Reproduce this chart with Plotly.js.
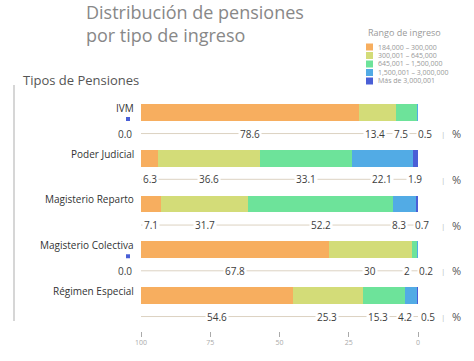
<!DOCTYPE html>
<html><head><meta charset="utf-8">
<script src="https://cdn.plot.ly/plotly-3.0.1.min.js"></script>
<style>body{margin:0;background:#fff}#c{width:474px;height:361px}</style>
</head><body><div id="c"></div>
<script>
const categories = ['IVM','Poder Judicial','Magisterio Reparto','Magisterio Colectiva','Régimen Especial'];
const rangeNames = ['184,000 – 300,000','300,001 – 645,000','645,001 – 1,500,000','1,500,001 – 3,000,000','Más de 3,000,001'];
const rangeColors = ['#F7AE5F','#D3DC78','#6DE39A','#52ABE5','#4A5FD6'];
const r184 = [78.6, 6.3, 7.1, 67.8, 54.6];
const r300 = [13.4, 36.6, 31.7, 30, 25.3];
const r645 = [7.5, 33.1, 52.2, 2, 15.3];
const r1500 = [0.5, 22.1, 8.3, 0.2, 4.2];
const r3000 = [0.0, 1.9, 0.7, 0.0, 0.5];
const tickVals = [100, 75, 50, 25, 0];

const series = [r184, r300, r645, r1500, r3000];
const rows = categories.map((c,i)=>i);

const W=474,H=361,ML=141,MR=56,MT=95,MB=30;
const PW=W-ML-MR, PH=H-MT-MB;
const yRange=[4.776,-0.383];
const pxPerUnitX = PW/100;
const toPaperX = px => (px-ML)/PW;
const toPaperY = py => (H-MB-py)/PH;
const valueOffset = 0.46;

const traces = [];
for (let k=series.length-1;k>=0;k--){
  traces.push({type:'bar',orientation:'h',y:rows,x:series[k],name:rangeNames[k],
    marker:{color:rangeColors[k],line:{width:0}},width:0.37,hoverinfo:'skip',showlegend:false});
}

const shapes=[], annotations=[];
const fmt = v => v===0 ? '0.0' : String(v);
const txtW = s => { let w=0; for(const ch of s){ w += (ch==='.')?2.8:5.8; } return w; };

rows.forEach(i=>{
  const yv = i+valueOffset;
  shapes.push({type:'line',xref:'x',yref:'y',x0:100,x1:0,y0:yv,y1:yv,line:{color:'#DCD2C2',width:1},layer:'below'});
  let cum=0; const items=[];
  series.forEach((s,k)=>{
    const v=s[i];
    const mid = cum+v/2; cum+=v;
    if (v===0) return;
    items.push({t:fmt(v),p:ML + mid*pxPerUnitX,w:txtW(fmt(v))});
  });
  for(let it=0;it<100;it++){
    for(let j=0;j<items.length-1;j++){
      const a=items[j], b=items[j+1];
      const need=(a.w+b.w)/2+9;
      const gap=b.p-a.p;
      if(gap<need){const d=(need-gap)/2; a.p-=d; b.p+=d;}
    }
    if(items[0].p-items[0].w/2<ML){items[0].p=ML+items[0].w/2;}
  }
  items.forEach(it=>{
    annotations.push({xref:'paper',yref:'y',x:toPaperX(it.p),y:yv,text:it.t,showarrow:false,
      xanchor:'center',yanchor:'middle',bgcolor:'#ffffff',borderpad:1,font:{family:'Open Sans',size:10,color:'#3d3d3d'}});
  });
  series.forEach((s,k)=>{
    if(s[i]===0){
      annotations.push({xref:'paper',yref:'y',x:toPaperX(134),y:yv,text:'0.0',showarrow:false,xanchor:'right',yanchor:'middle',
        font:{family:'Open Sans',size:10,color:'#3d3d3d'}});
      shapes.push({type:'rect',xref:'paper',yref:'y',x0:toPaperX(126),x1:toPaperX(130),y0:i+4.5/45.75,y1:i+8.5/45.75,
        fillcolor:rangeColors[k],line:{width:0}});
    }
  });
  annotations.push({xref:'paper',yref:'y',x:toPaperX(443),y:yv,text:'|',showarrow:false,xanchor:'center',yanchor:'middle',
    font:{family:'Open Sans',size:8,color:'#bbb'}});
  annotations.push({xref:'paper',yref:'y',x:toPaperX(456),y:yv,text:'%',showarrow:false,xanchor:'center',yanchor:'middle',
    font:{family:'Open Sans',size:11,color:'#555'}});
  annotations.push({xref:'paper',yref:'y',x:toPaperX(136),y:i-0.1,text:categories[i],showarrow:false,xanchor:'right',yanchor:'middle',
    font:{family:'Open Sans',size:10,color:'#333'}});
});

annotations.push({xref:'paper',yref:'paper',x:toPaperX(84),y:toPaperY(-2),text:'Distribución de pensiones<br>por tipo de ingreso',
  showarrow:false,xanchor:'left',yanchor:'top',align:'left',font:{family:'Open Sans',size:18,color:'#888'}});
annotations.push({xref:'paper',yref:'paper',x:toPaperX(21),y:toPaperY(80),text:'Tipos de Pensiones',showarrow:false,xanchor:'left',yanchor:'middle',
  font:{family:'Open Sans',size:13,color:'#555'}});
shapes.push({type:'line',xref:'paper',yref:'paper',x0:toPaperX(14),x1:toPaperX(14),y0:toPaperY(85),y1:toPaperY(321),line:{color:'#C8C8C8',width:1.5}});

annotations.push({xref:'paper',yref:'paper',x:toPaperX(366),y:toPaperY(32),text:'Rango de ingreso',showarrow:false,xanchor:'left',yanchor:'middle',
  font:{family:'Open Sans',size:9,color:'#999'}});
rangeNames.forEach((n,k)=>{
  const cy = 47 + k*8.5;
  shapes.push({type:'rect',xref:'paper',yref:'paper',x0:toPaperX(366),x1:toPaperX(373),y0:toPaperY(cy+3.5),y1:toPaperY(cy-3.5),
    fillcolor:rangeColors[k],line:{width:0}});
  annotations.push({xref:'paper',yref:'paper',x:toPaperX(376),y:toPaperY(cy),text:n,showarrow:false,xanchor:'left',yanchor:'middle',
    font:{family:'Open Sans',size:7,color:'#999'}});
});

const layout = {
  width:W,height:H,margin:{l:ML,r:MR,t:MT,b:MB},
  paper_bgcolor:'#fff',plot_bgcolor:'#fff',
  barmode:'stack',showlegend:false,hovermode:false,
  xaxis:{range:[100,0],tickvals:tickVals,ticktext:tickVals.map(String),showgrid:false,zeroline:false,showline:false,
    ticks:'outside',ticklen:5,tickwidth:1,tickcolor:'#aaa',tickfont:{family:'Open Sans',size:7,color:'#aaa'},fixedrange:true},
  yaxis:{range:yRange,showticklabels:false,showgrid:false,zeroline:false,showline:false,ticks:'',fixedrange:true},
  shapes:shapes,annotations:annotations
};
Plotly.newPlot('c',traces,layout,{displayModeBar:false,staticPlot:true});
</script></body></html>
